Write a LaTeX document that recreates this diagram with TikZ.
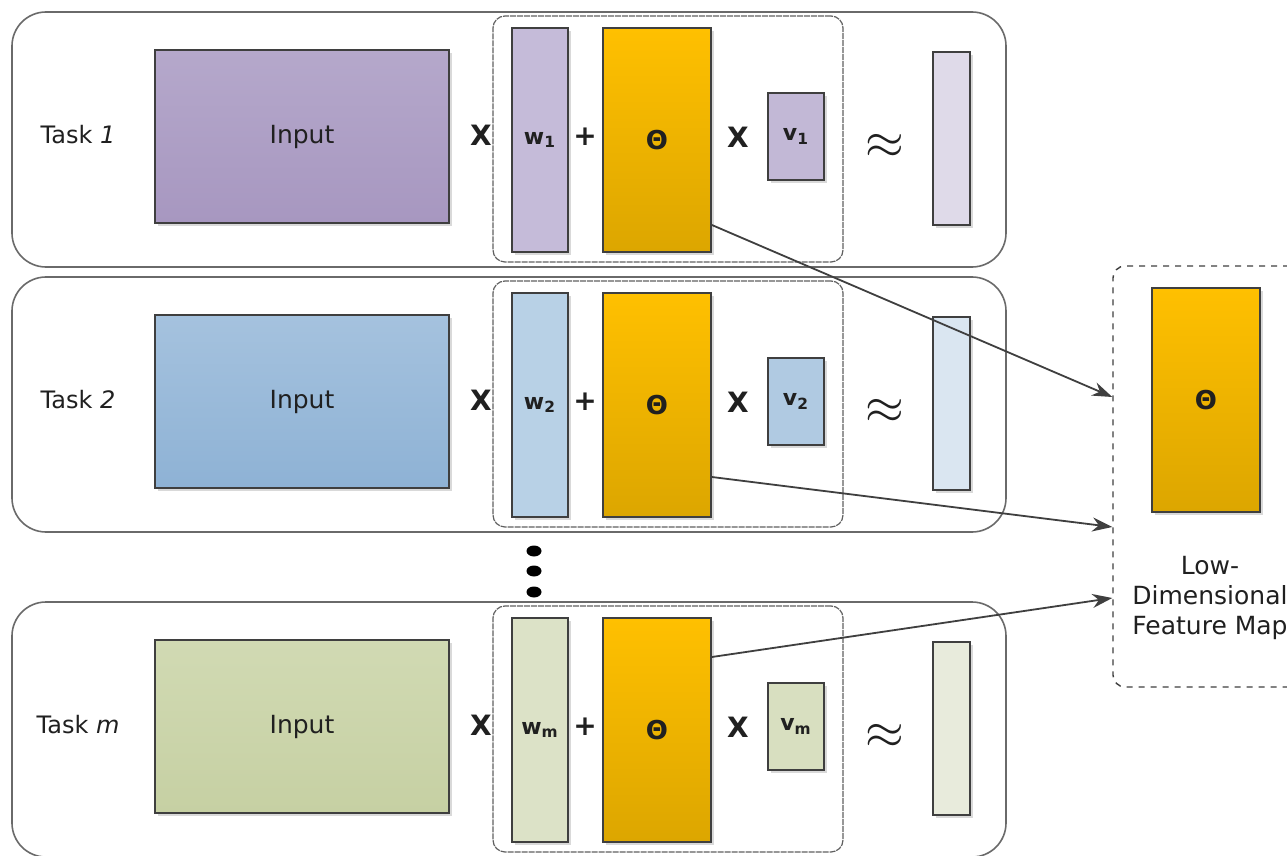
\documentclass[tikz,border=0pt]{standalone}
\usepackage{fontspec}
\setmainfont{DejaVu Sans}
\usetikzlibrary{calc,arrows.meta,shadows}
\definecolor{bord}{HTML}{3F3F3F}
\definecolor{obord}{HTML}{6A6A6A}
\definecolor{txt}{HTML}{202020}
\definecolor{thtop}{HTML}{FFC000}
\definecolor{thbot}{HTML}{DCA600}
\definecolor{inAt}{HTML}{B5A8CB}\definecolor{inAb}{HTML}{A797C0}
\definecolor{wA}{HTML}{C5BBD9}\definecolor{vA}{HTML}{C2B8D6}\definecolor{oA}{HTML}{DFDAE9}
\definecolor{inBt}{HTML}{A5C2DE}\definecolor{inBb}{HTML}{8EB2D5}
\definecolor{wB}{HTML}{B8D1E6}\definecolor{vB}{HTML}{B0CAE2}\definecolor{oB}{HTML}{DAE6F1}
\definecolor{inCt}{HTML}{D1DAB3}\definecolor{inCb}{HTML}{C6D0A3}
\definecolor{wC}{HTML}{DCE2C7}\definecolor{vC}{HTML}{D8DFC0}\definecolor{oC}{HTML}{E8EBDC}
\newcommand\TaskRow[9]{%
  \node[outerbox,sz={994}{255}] (outer#1) at (509,{139.5+#2}) {};
  \node[innerbox,sz={350}{246}] (inner#1) at (668,{139+#2}) {};
  \node[lbl] (task#1) at (78,{135+#2}) {Task \textit{#3}};
  \node[blk,sz={294}{173},top color=#5,bottom color=#6] (in#1) at (302,{136.5+#2}) {\fontsize{12.5}{15}\selectfont Input};
  \node[op] (xa#1) at (481,{135+#2}) {X};
  \node[blk,sz={56}{224},fill=#7] (w#1) at (540,{140+#2}) {\textbf{w\textsubscript{#4}}};
  \node[op] (plus#1) at (585,{137+#2}) {+};
  \node[blk,sz={108}{224},top color=thtop,bottom color=thbot] (th#1) at (657,{140+#2}) {\fontsize{13}{15}\selectfont\textbf{Θ}};
  \node[op] (xb#1) at (738,{137+#2}) {X};
  \node[blk,sz={56}{87},fill=#8] (v#1) at (796,{136.5+#2}) {\textbf{v\textsubscript{#4}}};
  \node[text=txt,inner sep=0pt] (ap#1) at (885,{146+#2}) {\fontsize{34}{34}\selectfont$\approx$};
  \node[blk,sz={37}{173},fill=#9] (out#1) at (951.5,{138.5+#2}) {};
}
\begin{document}
\begin{tikzpicture}[x=0.5pt,y=-0.5pt,
  sz/.style 2 args={minimum width=#1*0.5pt,minimum height=#2*0.5pt},
  blk/.style={draw=bord,line width=0.9pt,inner sep=0pt,text=txt,font=\fontsize{11}{13}\selectfont,
    drop shadow={shadow xshift=1.6pt,shadow yshift=-1.6pt,fill=black!15,opacity=1}},
  outerbox/.style={draw=obord,line width=0.8pt,rounded corners=17pt,inner sep=0pt},
  innerbox/.style={draw=gray!75!black,line width=0.6pt,rounded corners=6pt,inner sep=0pt,dash pattern=on 3pt off 0.5pt},
  lbl/.style={text=txt,inner sep=0pt,font=\fontsize{12}{14}\selectfont},
  op/.style={text=txt,inner sep=0pt,font=\fontsize{14}{16}\selectfont\bfseries},
  arr/.style={draw=bord,line width=0.9pt,-{Stealth[length=10pt,width=7pt]}}]
\useasboundingbox (0,0) rectangle (1287,856);
\fill[white] (0,0) rectangle (1287,856);
\TaskRow{1}{0}{1}{1}{inAt}{inAb}{wA}{vA}{oA}
\TaskRow{2}{265}{2}{2}{inBt}{inBb}{wB}{vB}{oB}
\TaskRow{m}{590}{m}{m}{inCt}{inCb}{wC}{vC}{oC}
% vertical dots
\fill[black] (534,551) ellipse [x radius=7.5, y radius=5.5];
\fill[black] (534,571) ellipse [x radius=7.5, y radius=5.5];
\fill[black] (534,592) ellipse [x radius=7.5, y radius=5.5];
% feature map panel
\node[draw=bord,dashed,line width=0.7pt,rounded corners=6pt,inner sep=0pt,sz={200}{421}] (fm) at (1213,476.5) {};
\node[blk,sz={108}{224},top color=thtop,bottom color=thbot] (thbig) at (1206,400) {\fontsize{13}{15}\selectfont\textbf{Θ}};
\node[text=txt,align=center,inner sep=0pt,font=\fontsize{12.5}{15}\selectfont] (fmlabel) at (1210,598) {Low-\\Dimensional\\Feature Map};
% arrows
\draw[arr] ($(th1.east)+(0,85)$) -- ($(fm.west)+(0,-79.5)$);
\draw[arr] ($(th2.east)+(0,72)$) -- ($(fm.west)+(0,50.5)$);
\draw[arr] ($(thm.east)+(0,-73)$) -- ($(fm.west)+(0,121.5)$);
\end{tikzpicture}
\end{document}
